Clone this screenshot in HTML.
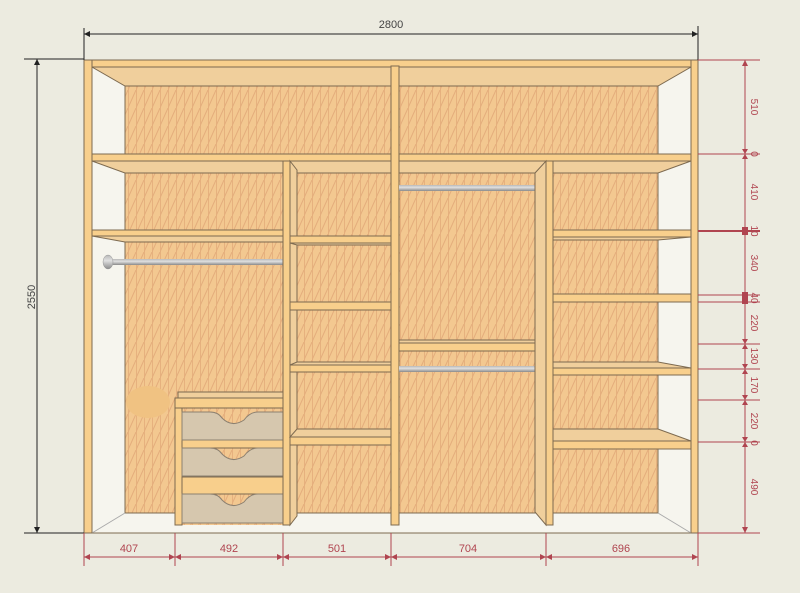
<!DOCTYPE html>
<html><head><meta charset="utf-8"><style>
html,body{margin:0;padding:0;background:#ecebe0;}
svg{display:block;}
text{font-family:"Liberation Sans",sans-serif;}
</style></head><body>
<svg width="800" height="593" viewBox="0 0 800 593" xmlns="http://www.w3.org/2000/svg">
<defs>
<pattern id="wp" width="8" height="18" patternUnits="userSpaceOnUse">
<rect width="8" height="18" fill="#f3c890"/>
<line x1="0.5" y1="0" x2="0.5" y2="18" stroke="#e6b17e" stroke-width="1"/>
<line x1="0" y1="18" x2="8" y2="0" stroke="#e4ad7c" stroke-width="1"/>
</pattern>
<linearGradient id="rod" x1="0" y1="0" x2="0" y2="1"><stop offset="0" stop-color="#b8b8b8"/><stop offset="0.4" stop-color="#e0e0e0"/><stop offset="1" stop-color="#8a8a8a"/></linearGradient>
</defs>
<rect width="800" height="593" fill="#ecebe0"/>
<rect x="84" y="60" width="614" height="473" fill="#f8cf8c" stroke="#7d6a50"/>
<rect x="92" y="67" width="599" height="466" fill="#f6f5ee" stroke="#7d6a50"/>
<rect x="125" y="86" width="533" height="427" fill="url(#wp)" stroke="#7d6a50"/>
<line x1="92" y1="533" x2="125" y2="513" stroke="#aaa"/>
<line x1="691" y1="533" x2="658" y2="513" stroke="#aaa"/>
<polygon points="92,67 691,67 658,86 125,86" fill="#f0cf9c" stroke="#7d6a50"/>
<rect x="84" y="60" width="614" height="7" fill="#f8cf8c" stroke="#7d6a50"/>
<rect x="84" y="60" width="8" height="473" fill="#f8cf8c" stroke="#7d6a50"/>
<rect x="691" y="60" width="7" height="473" fill="#f8cf8c" stroke="#7d6a50"/>
<polygon points="92,161 691,161 658,173 125,173" fill="#f0cf9c" stroke="#7d6a50"/>
<rect x="92" y="154" width="599" height="7" fill="#f8cf8c" stroke="#7d6a50"/>
<polygon points="92,236 283,236 283,242 125,242" fill="#f0cf9c" stroke="#7d6a50"/>
<rect x="92" y="230" width="191" height="6" fill="#f8cf8c" stroke="#7d6a50"/>
<rect x="106" y="259" width="177" height="6" fill="url(#rod)"/>
<ellipse cx="108" cy="262" rx="5" ry="7" fill="url(#rod)" stroke="#999" stroke-width="0.5"/>
<ellipse cx="148" cy="402" rx="22" ry="16" fill="#f0c282"/>
<rect x="182" y="410" width="101" height="115" fill="url(#wp)"/>
<rect x="178" y="392" width="107" height="6" fill="#f0cf9c" stroke="#7d6a50"/>
<rect x="175" y="398" width="110" height="10" fill="#f8cf8c" stroke="#7d6a50"/>
<rect x="175" y="408" width="7" height="117" fill="#f8cf8c" stroke="#7d6a50"/>
<rect x="182" y="440" width="101" height="8" fill="#f8cf8c" stroke="#7d6a50"/>
<rect x="182" y="477" width="101" height="17" fill="#f8cf8c" stroke="#7d6a50"/>
<path d="M182,412 H210 Q218,412 222,418 Q232,428 244,420 Q250,412 258,412 H283 V440 H182 Z" fill="#d6c7ae" stroke="#8c8070"/>
<path d="M182,448 H210 Q218,448 222,454 Q232,464 244,456 Q250,448 258,448 H283 V476 H182 Z" fill="#d6c7ae" stroke="#8c8070"/>
<path d="M182,494 H210 Q218,494 222,500 Q232,510 244,502 Q250,494 258,494 H283 V523 H182 Z" fill="#d6c7ae" stroke="#8c8070"/>
<rect x="283" y="161" width="7" height="364" fill="#f8cf8c" stroke="#7d6a50"/>
<polygon points="290,161 297,170 297,516 290,525" fill="#f0cf9c" stroke="#7d6a50"/>
<rect x="290" y="236" width="101" height="7" fill="#f8cf8c" stroke="#7d6a50"/>
<polygon points="290,243 391,243 391,245 297,245" fill="#f0cf9c" stroke="#7d6a50"/>
<rect x="290" y="302" width="101" height="8" fill="#f8cf8c" stroke="#7d6a50"/>
<polygon points="297,362 391,362 391,365 290,365" fill="#f0cf9c" stroke="#7d6a50"/>
<rect x="290" y="365" width="101" height="7" fill="#f8cf8c" stroke="#7d6a50"/>
<polygon points="297,429 391,429 391,437 290,437" fill="#f0cf9c" stroke="#7d6a50"/>
<rect x="290" y="437" width="101" height="8" fill="#f8cf8c" stroke="#7d6a50"/>
<rect x="391" y="66" width="8" height="459" fill="#f8cf8c" stroke="#7d6a50"/>
<rect x="399" y="185" width="140" height="6" fill="url(#rod)"/>
<ellipse cx="540" cy="188" rx="2.5" ry="6" fill="#aaa"/>
<polygon points="399,340 540,340 546,343 399,343" fill="#f0cf9c" stroke="#7d6a50"/>
<rect x="399" y="343" width="147" height="8" fill="#f8cf8c" stroke="#7d6a50"/>
<rect x="399" y="366" width="140" height="6" fill="url(#rod)"/>
<ellipse cx="540" cy="369" rx="2.5" ry="6" fill="#aaa"/>
<polygon points="535,173 546,161 546,525 535,512" fill="#f0cf9c" stroke="#7d6a50"/>
<rect x="546" y="161" width="7" height="364" fill="#f8cf8c" stroke="#7d6a50"/>
<rect x="553" y="230" width="138" height="7" fill="#f8cf8c" stroke="#7d6a50"/>
<polygon points="553,237 691,237 658,240 553,240" fill="#f0cf9c" stroke="#7d6a50"/>
<rect x="553" y="294" width="138" height="8" fill="#f8cf8c" stroke="#7d6a50"/>
<polygon points="553,362 658,362 691,368 553,368" fill="#f0cf9c" stroke="#7d6a50"/>
<rect x="553" y="368" width="138" height="7" fill="#f8cf8c" stroke="#7d6a50"/>
<polygon points="553,429 658,429 691,441 553,441" fill="#f0cf9c" stroke="#7d6a50"/>
<rect x="553" y="441" width="138" height="8" fill="#f8cf8c" stroke="#7d6a50"/>
<g stroke="#222" fill="#222">
<line x1="84" y1="28" x2="84" y2="60"/><line x1="698" y1="26" x2="698" y2="60"/>
<line x1="84" y1="34" x2="698" y2="34"/>
<polygon points="84,34 90,31 90,37" stroke="none"/><polygon points="698,34 692,31 692,37" stroke="none"/>
<line x1="24" y1="59" x2="84" y2="59"/><line x1="24" y1="533" x2="84" y2="533"/>
<line x1="37" y1="59" x2="37" y2="533"/>
<polygon points="37,59 34,65 40,65" stroke="none"/><polygon points="37,533 34,527 40,527" stroke="none"/>
</g>
<text x="391" y="28" font-size="11" fill="#444" text-anchor="middle">2800</text>
<text transform="translate(35,297) rotate(-90)" font-size="11" fill="#444" text-anchor="middle">2550</text>
<g stroke="#b04550" fill="#b04550">
<line x1="745" y1="60" x2="745" y2="533"/>
<line x1="698" y1="60" x2="760" y2="60"/>
<line x1="698" y1="154" x2="760" y2="154"/>
<line x1="698" y1="231" x2="760" y2="231" stroke-width="2"/>
<line x1="698" y1="295" x2="760" y2="295"/>
<line x1="698" y1="302" x2="760" y2="302"/>
<line x1="698" y1="344" x2="760" y2="344"/>
<line x1="698" y1="369" x2="760" y2="369"/>
<line x1="698" y1="400" x2="760" y2="400"/>
<line x1="698" y1="442" x2="760" y2="442"/>
<line x1="698" y1="533" x2="760" y2="533"/>
<line x1="698" y1="533" x2="698" y2="566"/>
<polygon points="745,60 742,66 748,66" stroke="none"/>
<polygon points="745,533 742,527 748,527" stroke="none"/>
<polygon points="742,149 748,149 745,154 742,159 748,159 745,154" stroke="none"/>
<rect x="742" y="227" width="6" height="8" stroke="none"/>
<rect x="742" y="292" width="6" height="12" stroke="none"/>
<polygon points="742,339 748,339 745,344 742,349 748,349 745,344" stroke="none"/>
<polygon points="742,364 748,364 745,369 742,374 748,374 745,369" stroke="none"/>
<polygon points="742,395 748,395 745,400 742,405 748,405 745,400" stroke="none"/>
<polygon points="742,437 748,437 745,442 742,447 748,447 745,442" stroke="none"/>
</g>
<g font-size="10" fill="#b04550" text-anchor="middle">
<text transform="translate(751,107) rotate(90)">510</text>
<text transform="translate(751,154) rotate(90)">0</text>
<text transform="translate(751,192) rotate(90)">410</text>
<text transform="translate(751,231) rotate(90)">10</text>
<text transform="translate(751,263) rotate(90)">340</text>
<text transform="translate(751,298) rotate(90)">40</text>
<text transform="translate(751,323) rotate(90)">220</text>
<text transform="translate(751,356) rotate(90)">130</text>
<text transform="translate(751,385) rotate(90)">170</text>
<text transform="translate(751,421) rotate(90)">220</text>
<text transform="translate(751,443) rotate(90)">0</text>
<text transform="translate(751,487) rotate(90)">490</text>
</g>
<g stroke="#b04550" fill="#b04550">
<line x1="84" y1="533" x2="84" y2="566"/>
<line x1="175" y1="533" x2="175" y2="566"/>
<line x1="283" y1="533" x2="283" y2="566"/>
<line x1="391" y1="533" x2="391" y2="566"/>
<line x1="546" y1="533" x2="546" y2="566"/>
<line x1="84" y1="557" x2="698" y2="557"/>
<polygon points="84,557 90,554 90,560" stroke="none"/>
<polygon points="698,557 692,554 692,560" stroke="none"/>
<polygon points="169,554 181,560 181,554 169,560" stroke="none"/>
<polygon points="277,554 289,560 289,554 277,560" stroke="none"/>
<polygon points="385,554 397,560 397,554 385,560" stroke="none"/>
<polygon points="540,554 552,560 552,554 540,560" stroke="none"/>
</g>
<g font-size="11" fill="#b04550" text-anchor="middle">
<text x="129" y="552">407</text>
<text x="229" y="552">492</text>
<text x="337" y="552">501</text>
<text x="468" y="552">704</text>
<text x="621" y="552">696</text>
</g>
</svg>
</body></html>
